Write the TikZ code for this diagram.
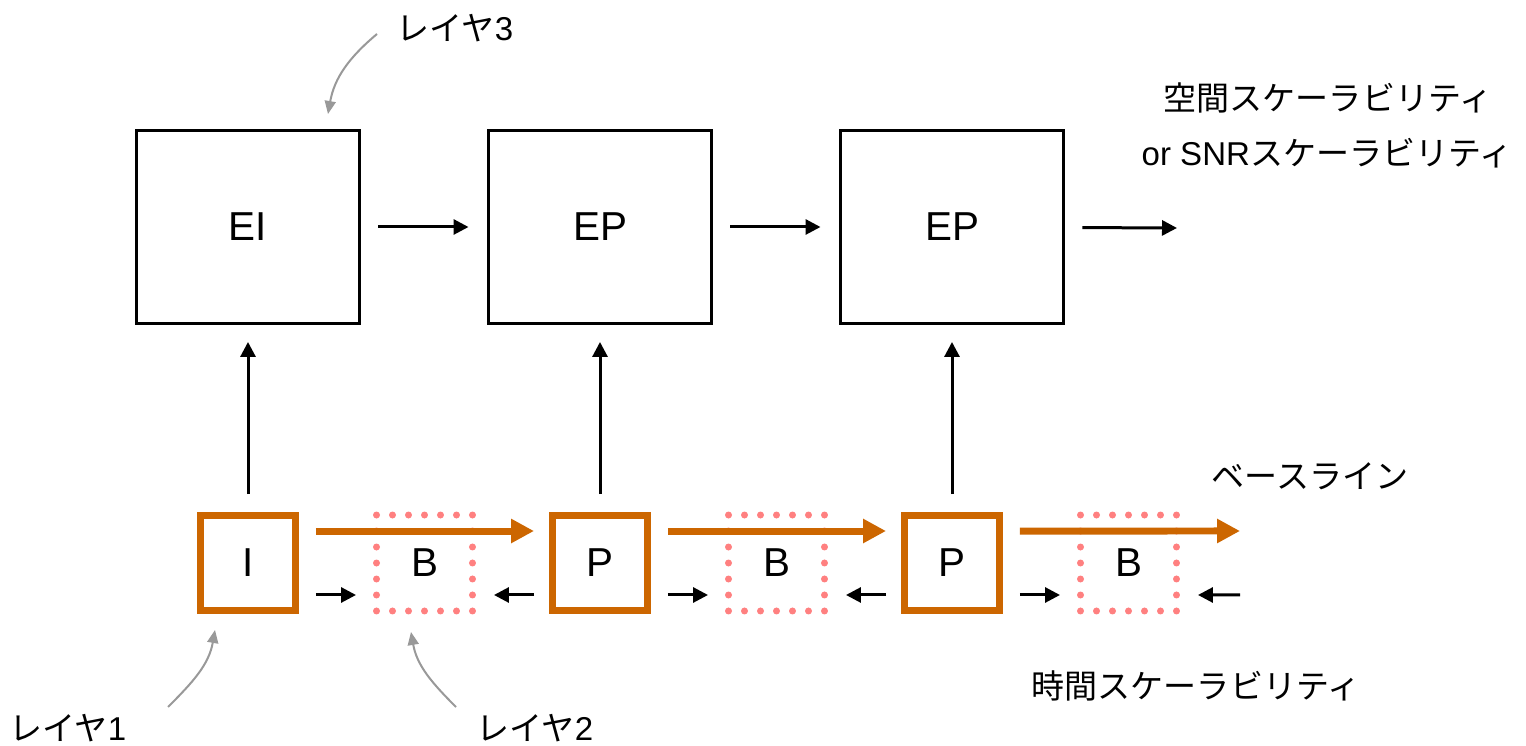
\documentclass[tikz,border=0pt]{standalone}
\usepackage{fontspec}
\setmainfont{Liberation Sans}
\newfontfamily\jp{Noto Sans CJK JP}
\usetikzlibrary{arrows.meta}

\definecolor{baseorange}{RGB}{204,102,0}
\definecolor{bpink}{RGB}{255,128,128}
\definecolor{notegray}{RGB}{153,153,153}

\begin{document}
\begin{tikzpicture}[x=0.02cm,y=-0.02cm]
    \tikzstyle{layer box}=[draw=black,line width=0.06cm,minimum width=4.48cm,minimum height=3.86cm,inner sep=0pt,font=\fontsize{23}{27}\selectfont]
    \tikzstyle{base frame}=[draw=baseorange,line width=0.14cm,minimum size=1.92cm,inner sep=0pt,font=\fontsize{23}{27}\selectfont]
    \tikzstyle{b frame}=[draw=bpink,line width=0.14cm,line cap=round,dash pattern=on 0pt off 0.32cm,minimum size=1.92cm,inner sep=0pt,font=\fontsize{23}{27}\selectfont]
    \tikzstyle{arr}=[draw=black,line width=0.06cm,-{Triangle[length=0.3cm,width=0.3cm]}]
    \tikzstyle{orange arr}=[draw=baseorange,line width=0.14cm,-{Triangle[length=0.46cm,width=0.46cm]}]
    \tikzstyle{note arr}=[draw=notegray,line width=0.04cm,-{Triangle[length=0.26cm,width=0.22cm]}]
    \tikzstyle{annot}=[inner sep=0pt,font=\fontsize{18.8}{22}\selectfont]

    \useasboundingbox (0,0) rectangle (1526,746);

    % Draw the enhancement layer
    \foreach \name / \x / \lbl in {1/248/EI,2/600/EP,3/952/EP}
        \node[layer box] (T-\name) at (\x,227) {\lbl};

    % Draw the base layer and the B frames
    \foreach \name / \x / \lbl in {1/248/I,2/600/P,3/952/P}
        \node[base frame] (F-\name) at (\x,563) {\lbl};
    \foreach \name / \x in {1/424.5,2/776.5,3/1128.5}
        \node[b frame] (B-\name) at (\x,563) {B};

    \coordinate (T-end) at (1177,228);
    \coordinate (O-end) at (1240,531);
    \coordinate (K-end) at (1240,595);

    % Connect the enhancement layer
    \foreach \source / \dest in {1/2,2/3}
        \draw[arr,shorten <=0.34cm,shorten >=0.36cm] (T-\source) -- (T-\dest);
    \draw[arr,shorten <=0.34cm] (T-3) -- (T-end);

    % Connect base layer to enhancement layer
    \foreach \i in {1,2,3}
        \draw[arr,shorten <=0.35cm,shorten >=0.34cm] (F-\i.north) -- (T-\i.south);

    % Baseline
    \foreach \source / \dest in {1/2,2/3}
        \draw[orange arr,shorten <=0.33cm,shorten >=0.29cm] ([yshift=0.64cm]F-\source.east) -- ([yshift=0.64cm]F-\dest.west);
    \draw[orange arr,shorten <=0.33cm] ([yshift=0.64cm]F-3.east) -- (O-end);

    % Prediction of the B frames
    \foreach \i in {1,2,3}
        \draw[arr,shorten <=0.33cm,shorten >=0.34cm] ([yshift=-0.64cm]F-\i.east) -- ([yshift=-0.64cm]B-\i.west);
    \foreach \source / \dest in {2/1,3/2}
        \draw[arr,shorten <=0.29cm,shorten >=0.36cm] ([yshift=-0.64cm]F-\source.west) -- ([yshift=-0.64cm]B-\dest.east);
    \draw[arr,shorten >=0.36cm] (K-end) -- ([yshift=-0.64cm]B-3.east);

    % Annotate the layers
    \node[annot] (sp1) at (1328,98) {\jp 空間スケーラビリティ};
    \node[annot] (sp2) at (1327,153) {or SNR{\jp スケーラビリティ}};
    \node[annot] (bl) at (1310,476) {\jp ベースライン};
    \node[annot] (tm) at (1196,686) {\jp 時間スケーラビリティ};
    \node[annot] (L-3) at (455,28) {{\jp レイヤ}3};
    \node[annot] (L-1) at (68,728) {{\jp レイヤ}1};
    \node[annot] (L-2) at (535,728) {{\jp レイヤ}2};

    \coordinate (L-3s) at (377,34);
    \coordinate (L-3t) at (328,114);
    \coordinate (L-1s) at (168,707);
    \coordinate (L-1t) at (215,630);
    \coordinate (L-2s) at (456,707);
    \coordinate (L-2t) at (411,632);
    \draw[note arr] (L-3s) to[out=-140,in=80] (L-3t);
    \draw[note arr] (L-1s) to[out=45,in=-100] (L-1t);
    \draw[note arr] (L-2s) to[out=135,in=-80] (L-2t);
\end{tikzpicture}
\end{document}
